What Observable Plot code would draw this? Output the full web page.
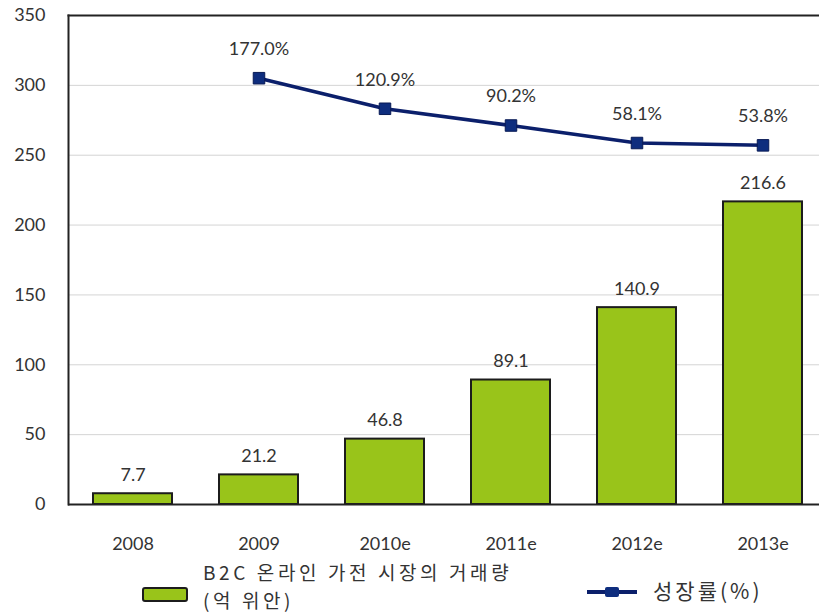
<!DOCTYPE html>
<html><head><meta charset="utf-8">
<script src="https://cdn.jsdelivr.net/npm/d3@7"></script>
<script src="https://cdn.jsdelivr.net/npm/@observablehq/plot@0.6"></script>
<style>
body{margin:0;background:#fff;font-family:"Lato","Noto Sans CJK KR",sans-serif;color:#333;overflow:hidden}
#wrap{position:relative;width:819px;height:614px}
.leg{position:absolute;font-family:"Noto Sans CJK KR","Lato",sans-serif;font-size:19px;letter-spacing:3.6px;color:#333;line-height:27px;white-space:nowrap}
</style></head>
<body><div id="wrap"><div id="chart"></div>
<div id="legend"></div></div>
<script>
const years = ["2008","2009","2010e","2011e","2012e","2013e"];
const volume = [7.7, 21.2, 46.8, 89.1, 140.9, 216.6];
const growthYears = ["2009","2010e","2011e","2012e","2013e"];
const growth = [177.0, 120.9, 90.2, 58.1, 53.8];
const yTicks = [0, 50, 100, 150, 200, 250, 300, 350];
const growthAxisDomain = [-605, 292];
const legendBar = "B2C 온라인 가전 시장의 거래량\n(억 위안)";
const legendLine = "성장률(%)";

const bars = years.map((y, i) => ({year: y, value: volume[i]}));
const g2y = d3.scaleLinear().domain(growthAxisDomain).range([0, 350]);
const line = growthYears.map((y, i) => ({year: y, growth: growth[i], pos: g2y(growth[i])}));

const plot = Plot.plot({
  width: 819, height: 560,
  marginLeft: 68, marginRight: 0, marginTop: 15, marginBottom: 56,
  style: {fontFamily: "Lato, sans-serif", color: "#333", background: "#fff", overflow: "visible"},
  x: {domain: years, range: [68, 828], paddingInner: 0.37, paddingOuter: 0.185, align: 0.5, label: null},
  y: {domain: [0, 350], label: null},
  marks: [
    Plot.ruleY(yTicks.filter(t => t > 0 && t < 350), {stroke: "#d4d4d4", strokeWidth: 1}),
    Plot.barY(bars, {x: "year", y: "value", fill: "#99c41a", stroke: "#1c1c1c", strokeWidth: 2}),
    Plot.text(bars, {x: "year", y: "value", text: d => d.value.toFixed(1), lineAnchor: "bottom", dy: -13, fontSize: 18, fill: "#333"}),
    Plot.ruleY([0], {stroke: "#222", strokeWidth: 2}),
    Plot.frame({anchor: "left", stroke: "#222", strokeWidth: 2}),
    Plot.frame({anchor: "top", stroke: "#222", strokeWidth: 2}),
    Plot.line(line, {x: "year", y: "pos", stroke: "#0b1f6b", strokeWidth: 3.5}),
    Plot.dot(line, {x: "year", y: "pos", symbol: "square", r: 6.5, fill: "#0e2d7e", stroke: "#081a55", strokeWidth: 1}),
    Plot.text(line, {x: "year", y: "pos", text: d => d.growth.toFixed(1) + "%", dy: -29, fontSize: 18, fill: "#333"}),
    Plot.axisY({ticks: yTicks, tickSize: 0, tickPadding: 23, fontSize: 18, tickFormat: d => d}),
    Plot.axisX({tickSize: 0, tickPadding: 33, fontSize: 18})
  ]
});
document.getElementById("chart").appendChild(plot);

const leg = document.getElementById("legend");
const lines = legendBar.split("\n");
leg.innerHTML = `
<div style="position:absolute;left:142px;top:587px;width:42px;height:11px;background:#99c41a;border:2px solid #1c1c1c;border-radius:3px"></div>
<div class="leg" style="left:203px;top:558px">${lines[0]}</div>
<div class="leg" style="left:203px;top:586px">${lines[1]}</div>
<div style="position:absolute;left:587px;top:590px;width:50px;height:4px;background:#0b1f6b"></div>
<div style="position:absolute;left:605px;top:587px;width:14px;height:10px;background:#0e2d7e;border-radius:2px"></div>
<div class="leg" style="left:653px;top:577px;font-size:21px;letter-spacing:3px">${legendLine}</div>`;
</script></body></html>
